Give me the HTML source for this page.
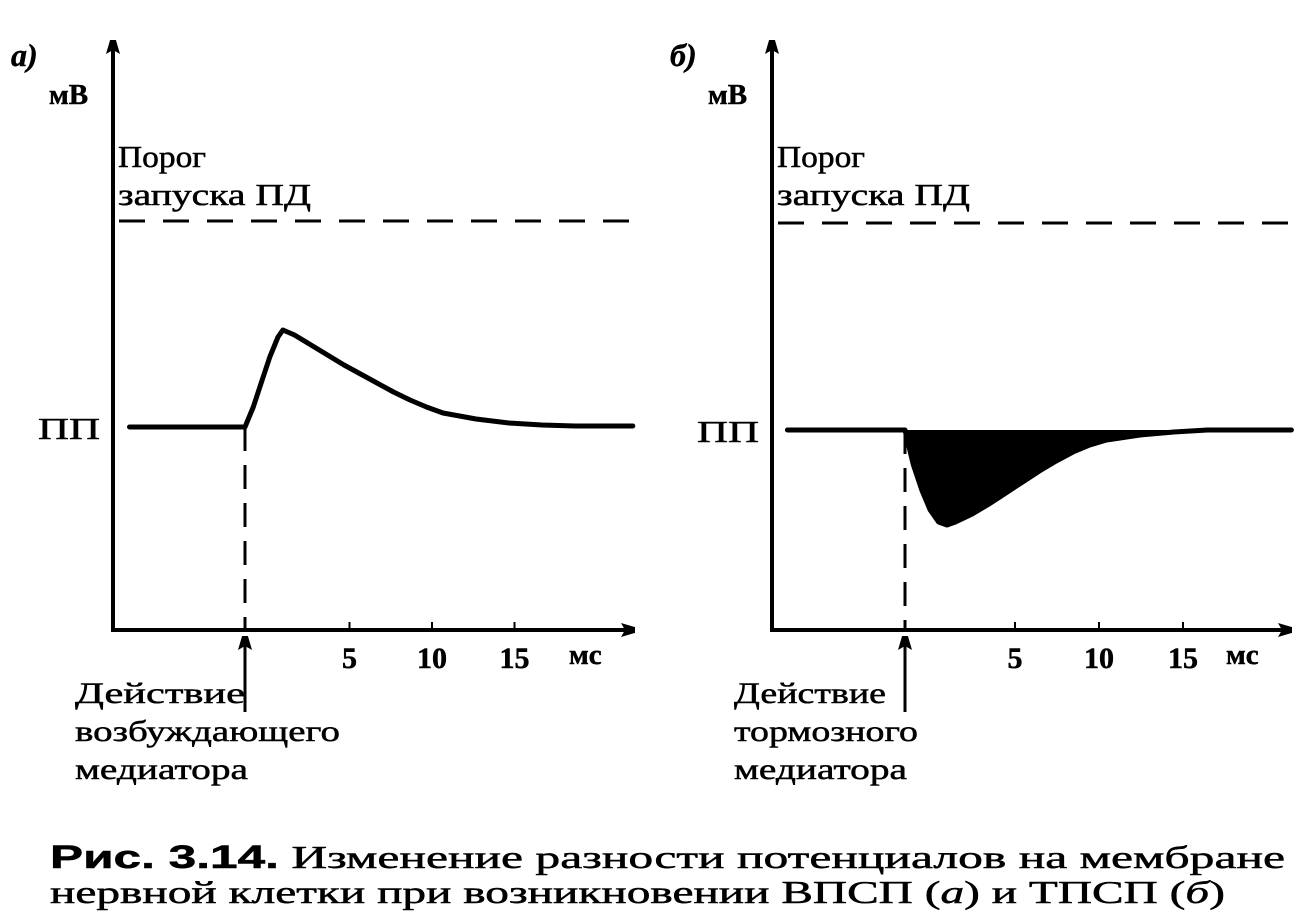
<!DOCTYPE html>
<html><head><meta charset="utf-8"><style>
html,body{margin:0;padding:0;background:#fff;}
svg{display:block;}
text{font-family:"Liberation Serif","DejaVu Serif",serif;fill:#000;stroke:#000;stroke-width:0.5px;}
</style></head><body>
<svg id="chart" width="1311" height="924" viewBox="0 0 1311 924" xmlns="http://www.w3.org/2000/svg">
<defs>
<marker id="ah" markerWidth="14" markerHeight="24" refX="14" refY="7" orient="auto" markerUnits="userSpaceOnUse"><path d="M0,0 L24,7 L0,14 L4,7 Z" fill="#000"/></marker>
</defs>
<g id="pa"></g>
<g id="pb"></g>
<text x="50" y="868" font-size="32" textLength="1235" lengthAdjust="spacingAndGlyphs"><tspan font-family="Liberation Sans" font-weight="bold">Рис. 3.14.</tspan> Изменение разности потенциалов на мембране</text>
<text x="50" y="903" font-size="32" textLength="1175" lengthAdjust="spacingAndGlyphs">нервной клетки при возникновении ВПСП (<tspan font-style="italic">а</tspan>) и ТПСП (<tspan font-style="italic">б</tspan>)</text>
</svg>
<script>
// data: time in ms relative to mediator action, potential deviation in px-units from resting
const tickLabels = ["5","10","15"];
const tickValues = [5,10,15];
const epspTime = [-7,0,0.5,1,1.5,2,2.3,3,4,5,6,7,8,9,10,11,12,14,16,18,20,23.5];
const epspValue = [0,0,20,45,70,90,97,92,82,72,62,53,44,35,27,20,14,8,4,2,1,1];
const ipspTime = [-7,0,0.5,1,1.5,2,2.5,3,4,5,6,7,8,9,10,11,12,14,16,18,20,23];
const ipspValue = [0,0,-35,-60,-80,-92,-95,-92,-84,-74,-63,-52,-41,-31,-22,-15,-10,-5,-2,0,0,0];
const NS="http://www.w3.org/2000/svg";
function mk(parent,tag,attrs){const e=document.createElementNS(NS,tag);for(const k in attrs)e.setAttribute(k,attrs[k]);parent.appendChild(e);return e;}
function panel(g,cfg,times,vals,filled,medText,medLen,label){
  const T=t=>cfg.tz+t*cfg.pxms;            // tick axis (ms)
  const X=t=>cfg.stim+t*cfg.pxms, Y=v=>cfg.base-v; // curve relative to stimulus
  let e=mk(g,'line',{x1:cfg.ax,y1:632,x2:cfg.ax,y2:40,stroke:'#000','stroke-width':4,'marker-end':'url(#ah)'});
  
  
  e=mk(g,'line',{x1:cfg.ax-2,y1:630,x2:cfg.xend,y2:630,stroke:'#000','stroke-width':4,'marker-end':'url(#ah)'});
  
  
  e=mk(g,'line',{x1:cfg.ax+6,y1:cfg.thr,x2:cfg.xend+5,y2:cfg.thr,stroke:'#000','stroke-width':3,'stroke-dasharray':'26,18'});
  
  
  tickValues.forEach((v,i)=>{
    let t=mk(g,'line',{x1:T(v),y1:622,x2:T(v),y2:630,stroke:'#000','stroke-width':2});
    
    
    let l=mk(g,'text',{x:T(v),y:668,'font-size':30,'text-anchor':'middle','font-weight':'bold'});
    l.textContent=tickLabels[i];
    
    
  });
  e=mk(g,'text',{x:cfg.xend-66,y:664,'font-size':29,'font-weight':'bold'});e.textContent='мс';
  
  
  e=mk(g,'text',{x:cfg.ax-64,y:104,'font-size':29,'font-weight':'bold'});e.textContent='мВ';
  
  
  e=mk(g,'text',{x:cfg.ax-102,y:66,'font-size':32,'font-weight':'bold','font-style':'italic'});e.textContent=label;
  
  
  e=mk(g,'text',{x:cfg.ax+5,y:167,'font-size':31,textLength:88,lengthAdjust:'spacingAndGlyphs'});e.textContent='Порог';
  
  
  e=mk(g,'text',{x:cfg.ax+5,y:205,'font-size':31,textLength:193,lengthAdjust:'spacingAndGlyphs'});e.textContent='запуска ПД';
  
  
  e=mk(g,'text',{x:cfg.ax-75,y:cfg.base+12,'font-size':31,textLength:62,lengthAdjust:'spacingAndGlyphs'});e.textContent='ПП';
  
  
  e=mk(g,'line',{x1:X(0),y1:cfg.base,x2:X(0),y2:630,stroke:'#000','stroke-width':3,'stroke-dasharray':'24,14'});
  
  
  e=mk(g,'line',{x1:X(0),y1:712,x2:X(0),y2:636,stroke:'#000','stroke-width':3,'marker-end':'url(#ah)'});
  
  
  medText.forEach((s,i)=>{
    let t=mk(g,'text',{x:cfg.ax-38,y:703+i*38,'font-size':30,textLength:medLen[i],lengthAdjust:'spacingAndGlyphs'});t.textContent=s;
    
    
  });
  const pts=times.map((t,i)=>X(t).toFixed(1)+','+Y(vals[i]).toFixed(1));
  if(filled){
    const fp=[];times.forEach((t,i)=>{if(t>=0)fp.push(X(t).toFixed(1)+','+Y(vals[i]).toFixed(1));});
    e=mk(g,'polygon',{points:fp.join(' '),fill:'#000'});
    
    
  }
  e=mk(g,'polyline',{points:pts.join(' '),fill:'none',stroke:'#000','stroke-width':5,'stroke-linejoin':'round','stroke-linecap':'round'});
  
  
}
panel(document.getElementById('pa'),{ax:113,xend:635,tz:267,stim:245,pxms:16.5,base:427,thr:221},epspTime,epspValue,false,['Действие','возбуждающего','медиатора'],[170,265,173],'а)');
panel(document.getElementById('pb'),{ax:772,xend:1292,tz:931,stim:905,pxms:16.8,base:430,thr:223},ipspTime,ipspValue,true,['Действие','тормозного','медиатора'],[152,184,173],'б)');
</script>
</body></html>
